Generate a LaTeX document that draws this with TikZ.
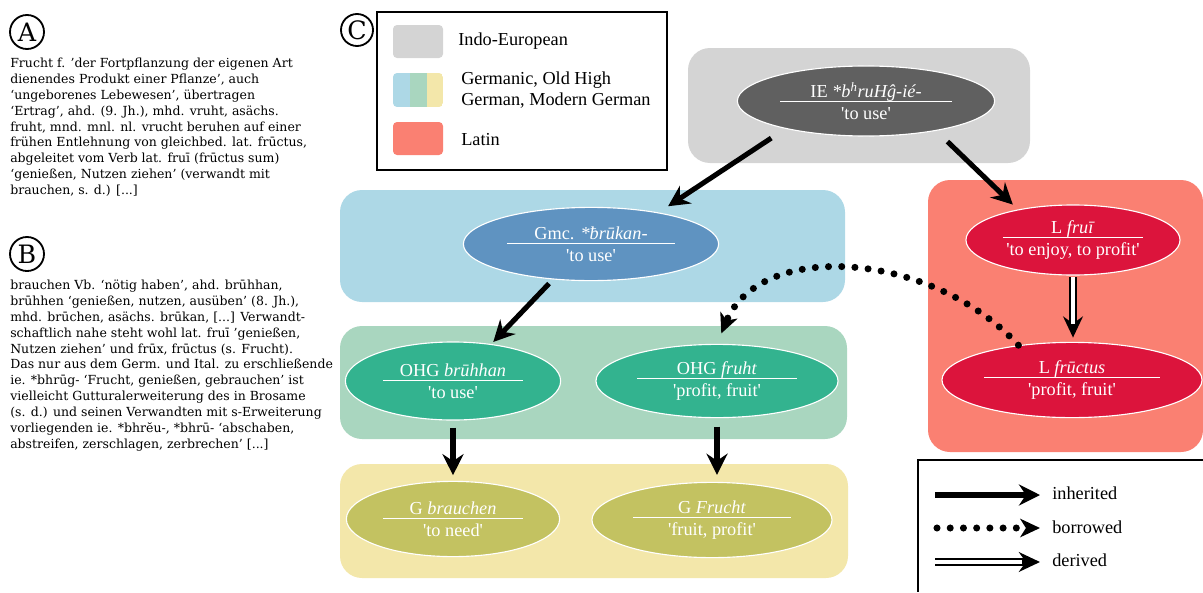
\documentclass[tikz,border=0pt]{standalone}
\usepackage{fontspec}
\setmainfont{Liberation Serif}[Ligatures=TeXOff]
\newfontfamily\dejaserif{DejaVu Serif}
\usetikzlibrary{shapes.geometric,arrows.meta}

\definecolor{iegrey}{HTML}{D4D4D4}
\definecolor{iedark}{HTML}{606060}
\definecolor{gmcblue}{HTML}{ADD8E6}
\definecolor{gmcdark}{HTML}{5F93C1}
\definecolor{ohggreen}{HTML}{A9D6BF}
\definecolor{ohgdark}{HTML}{33B38F}
\definecolor{gyellow}{HTML}{F3E7AA}
\definecolor{gdark}{HTML}{C3C261}
\definecolor{latred}{HTML}{FA8072}
\definecolor{latdark}{HTML}{DC143C}

\newcommand{\etym}[3]{#1\\[-12.1pt]\rule{#3}{0.8pt}\\[-3.5pt]#2}

\tikzstyle{lemma} = [ellipse, draw=white, line width=0.8pt, text=white, inner sep=0pt, align=center, font=\fontsize{13}{15.6}\selectfont]
\tikzstyle{region} = [rounded corners=0.55cm]
\tikzstyle{tag} = [circle, draw, line width=1.3pt, minimum size=0.85cm, inner sep=0pt, font=\dejaserif\fontsize{18}{18}\selectfont]
\tikzstyle{entry} = [anchor=north west, inner sep=0pt, align=left, font=\dejaserif\fontsize{8.9}{11.25}\selectfont]
\tikzstyle{keytext} = [anchor=west, inner sep=0pt, align=left, font=\fontsize{13}{14.5}\selectfont]
\tikzstyle{swatch} = [rounded corners=0.1cm]
\tikzstyle{inherited} = [line width=3.6pt, -{Stealth[length=15pt,width=15pt,inset=5pt]}]
\tikzstyle{borrowed} = [line width=5pt, line cap=round, dash pattern=on 0pt off 9.4pt, -{Stealth[length=14pt,width=13pt,inset=4pt]}]
\tikzstyle{derived} = [line width=5.6pt, -{Stealth[length=15pt,width=14pt,inset=5pt]}, postaction={draw, white, line width=2.6pt, -, shorten >=13pt}]

\begin{document}
\begin{tikzpicture}[x=0.025cm, y=-0.025cm]
\useasboundingbox (0,0) rectangle (1203,592);

\fill[region, iegrey] (688,48) rectangle (1030,163);
\fill[region, gmcblue] (340,190) rectangle (845,302);
\fill[region, ohggreen] (340,326) rectangle (847,439);
\fill[region, gyellow] (340,464) rectangle (848,578);
\fill[region, latred] (928,180) rectangle (1203,452);

\node (taga) [tag] at (27,32) {A};

\node (texta) [entry] at (10,58) {Frucht f. ’der Fortpflanzung der eigenen Art\\
dienendes Produkt einer Pflanze’, auch\\
‘ungeborenes Lebewesen’, übertragen\\
‘Ertrag’, ahd. (9. Jh.), mhd. vruht, asächs.\\
fruht, mnd. mnl. nl. vrucht beruhen auf einer\\
frühen Entlehnung von gleichbed. lat. frūctus,\\
abgeleitet vom Verb lat. fruī (frūctus sum)\\
‘genießen, Nutzen ziehen’ (verwandt mit\\
brauchen, s. d.) [...]};

\node (tagb) [tag] at (27,254) {B};

\node (textb) [entry] at (10,280) {brauchen Vb. ‘nötig haben’, ahd. brūhhan,\\
brūhhen ‘genießen, nutzen, ausüben’ (8. Jh.),\\
mhd. brūchen, asächs. brūkan, [...] Verwandt-\\
schaftlich nahe steht wohl lat. fruī ’genießen,\\
Nutzen ziehen’ und frūx, frūctus (s. Frucht).\\
Das nur aus dem Germ. und Ital. zu erschließende\\
ie. *bhrūg- ‘Frucht, genießen, gebrauchen’ ist\\
vielleicht Gutturalerweiterung des in Brosame\\
(s. d.) und seinen Verwandten mit s-Erweiterung\\
vorliegenden ie. *bhrĕu-, *bhrū- ‘abschaben,\\
abstreifen, zerschlagen, zerbrechen’ [...]};

\node (tagc) [tag, minimum size=0.8cm] at (357,30) {C};

\draw[line width=1.2pt] (377,12) rectangle (667,170);
\fill[swatch, iegrey] (393,25) rectangle (443,58);
\begin{scope}
\clip[swatch] (393,73) rectangle (443,107);
\fill[gmcblue] (393,73) rectangle (410,107);
\fill[ohggreen] (410,73) rectangle (427,107);
\fill[gyellow] (427,73) rectangle (443,107);
\end{scope}
\fill[swatch, latred] (393,122) rectangle (443,155);

\node (keyie) [keytext] at (458,41) {Indo-European};
\node (keygmc) [keytext] at (461,90) {Germanic, Old High\\German, Modern German};
\node (keylat) [keytext] at (461,140) {Latin};

\node (ie) [lemma, fill=iedark, minimum width=6.43cm, minimum height=1.75cm] at (866,101) {\etym{IE \textit{*b\textsuperscript{h}ruHĝ-ié-}}{'to use'}{4.28cm}};

\node (gmc) [lemma, fill=gmcdark, minimum width=6.38cm, minimum height=1.83cm] at (591,244) {\etym{Gmc. \textit{*ƀrūkan-}}{'to use'}{4.2cm}};

\node (lfrui) [lemma, fill=latdark, minimum width=5.35cm, minimum height=1.75cm] at (1073,240) {\etym{L \textit{fruī}}{'to enjoy, to profit'}{3.5cm}};

\node (lfructus) [lemma, fill=latdark, minimum width=6.5cm, minimum height=1.88cm] at (1072,380) {\etym{L \textit{frūctus}}{'profit, fruit'}{4.38cm}};

\node (ohga) [lemma, fill=ohgdark, minimum width=5.38cm, minimum height=1.95cm] at (453,381) {\etym{OHG \textit{brūhhan}}{'to use'}{3.5cm}};

\node (ohgb) [lemma, fill=ohgdark, minimum width=6.05cm, minimum height=1.83cm] at (717,381) {\etym{OHG \textit{fruht}}{'profit, fruit'}{3.98cm}};

\node (ga) [lemma, fill=gdark, minimum width=5.33cm, minimum height=1.88cm] at (453,519) {\etym{G \textit{brauchen}}{'to need'}{3.5cm}};

\node (gb) [lemma, fill=gdark, minimum width=6.0cm, minimum height=1.88cm] at (712,520) {\etym{G \textit{Frucht}}{'fruit, profit'}{3.93cm}};

\draw [inherited, shorten <=12pt, shorten >=8pt] (ie.199) -- (gmc.25);
\draw [inherited, shorten <=11pt, shorten >=5pt] (ie.337) -- (lfrui.151);
\draw [inherited, shorten <=4pt, shorten >=2pt] (gmc.223) -- (ohga.44);
\draw [inherited, shorten <=5pt, shorten >=4pt] (ohga.south) -- (ga.north);
\draw [inherited, shorten <=6pt, shorten >=5pt] (ohgb.south) -- (ohgb.south |- gb.north);
\draw [derived, shorten <=1pt, shorten >=3pt] (lfrui.south) -- (lfrui.south |- lfructus.north);
\draw [borrowed, shorten >=8pt] (lfructus.147) .. controls (930,250) and (760,240) .. (ohgb.north);

\draw[line width=1.2pt] (1203,460) -- (918,460) -- (918,592);

\coordinate (inha) at (935,495);
\coordinate (inhb) at (1040,495);
\coordinate (bora) at (937,528);
\coordinate (borb) at (1040,528);
\coordinate (dera) at (935,562);
\coordinate (derb) at (1040,562);

\draw [inherited] (inha) -- (inhb);
\draw [borrowed] (bora) -- (borb);
\draw [derived] (dera) -- (derb);

\node (keyinh) [keytext] at (1052,493) {inherited};
\node (keybor) [keytext] at (1052,527) {borrowed};
\node (keyder) [keytext] at (1052,560) {derived};
\end{tikzpicture}
\end{document}
